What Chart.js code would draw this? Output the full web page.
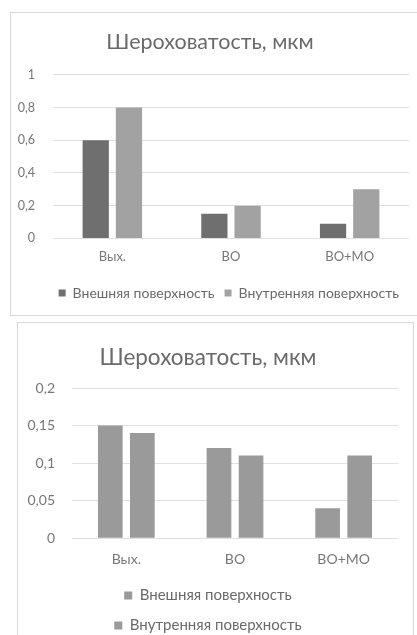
<!DOCTYPE html>
<html>
<head>
<meta charset="utf-8">
<script src="https://cdn.jsdelivr.net/npm/chart.js@4/dist/chart.umd.min.js"></script>
<style>
  html, body { margin: 0; padding: 0; background: #ffffff; overflow: hidden; }
  body { width: 417px; height: 635px; position: relative; }
  .panel { position: absolute; border: 1px solid #d9d9d9; background: #fff; box-sizing: border-box; }
  #p1 { left: 10px; top: 12px; width: 412px; height: 304px; }
  #p2 { left: 17px; top: 322px; width: 397px; height: 324px; }
  canvas { display: block; }
</style>
</head>
<body>
<div class="panel" id="p1"><canvas id="c1"></canvas></div>
<div class="panel" id="p2"><canvas id="c2"></canvas></div>
<script>
// Roughness by treatment stage, outer vs inner surface
const categories = ['Вых.', 'ВО', 'ВО+МО'];
const seriesNames = ['Внешняя поверхность', 'Внутренняя поверхность'];
const chartTitle = 'Шероховатость, мкм';

// upper chart
const outerA = [0.6, 0.15, 0.09];
const innerA = [0.8, 0.2, 0.3];
const ticksA = [0, 0.2, 0.4, 0.6, 0.8, 1];

// lower chart
const outerB = [0.15, 0.12, 0.04];
const innerB = [0.14, 0.11, 0.11];
const ticksB = [0, 0.05, 0.1, 0.15, 0.2];

const FONT = 'Lato, "Open Sans", sans-serif';
const fmt = v => String(Math.round(v * 100) / 100).replace('.', ',');

function makeChart(id, w, h, o) {
  const cv = document.getElementById(id);
  cv.width = w; cv.height = h;
  cv.style.width = w + 'px'; cv.style.height = h + 'px';
  return new Chart(cv, {
    type: 'bar',
    data: {
      labels: categories,
      datasets: [
        { label: seriesNames[0], data: o.outer, backgroundColor: o.colors[0],
          categoryPercentage: o.cp, barPercentage: o.bp },
        { label: seriesNames[1], data: o.inner, backgroundColor: o.colors[1],
          categoryPercentage: o.cp, barPercentage: o.bp }
      ]
    },
    options: {
      responsive: false,
      animation: false,
      layout: { padding: o.pad },
      plugins: {
        title: {
          display: true, text: chartTitle, color: '#6a6a6a',
          font: { family: FONT, size: o.titleSize, weight: 'normal' },
          padding: o.titlePad
        },
        legend: {
          position: 'bottom',
          align: o.legendAlign,
          labels: {
            color: '#6a6a6a', boxWidth: o.box, boxHeight: o.box,
            padding: o.legendPad,
            font: { family: FONT, size: o.legendSize }
          }
        },
        tooltip: { enabled: false }
      },
      scales: {
        x: {
          afterFit: s => { s.height -= o.xTrim; },
          grid: { display: false, drawTicks: false },
          border: { display: false },
          ticks: { color: '#777777', padding: o.xTickPad, font: { family: FONT, size: o.tickSize } }
        },
        y: {
          min: 0, max: o.max,
          afterBuildTicks: s => { s.ticks = o.ticks.map(v => ({ value: v })); },
          afterFit: s => { s.width = o.yWidth; },
          grid: { color: '#e0e0e0', lineWidth: 1, drawTicks: false },
          border: { display: false },
          ticks: { color: '#777777', padding: o.yTickPad, callback: v => fmt(v),
                   font: { family: FONT, size: o.yTickSize } }
        }
      }
    }
  });
}

makeChart('c1', 410, 302, {
  outer: outerA, inner: innerA, ticks: ticksA, max: 1,
  colors: ['#6f6f6f', '#a2a2a2'], cp: 0.56, bp: 0.79,
  pad: { left: 0, right: 12, top: 0, bottom: 5 },
  titleSize: 21.5, titlePad: { top: 16, bottom: 20 },
  legendSize: 14, legendPad: 10, box: 7, legendAlign: 'end',
  tickSize: 13, yTickSize: 12.5, xTickPad: 11, yTickPad: 18, yWidth: 42, xTrim: 0
});

makeChart('c2', 395, 322, {
  outer: outerB, inner: innerB, ticks: ticksB, max: 0.2,
  colors: ['#9a9a9a', '#9a9a9a'], cp: 0.59, bp: 0.77,
  pad: { left: 0, right: 15, top: 0, bottom: 2 },
  titleSize: 22.5, titlePad: { top: 21, bottom: 17 },
  legendSize: 15, legendPad: 15, box: 8, legendAlign: 'center',
  tickSize: 14, yTickSize: 14, xTickPad: 13, yTickPad: 17, yWidth: 54, xTrim: 8
});
</script>
</body>
</html>
